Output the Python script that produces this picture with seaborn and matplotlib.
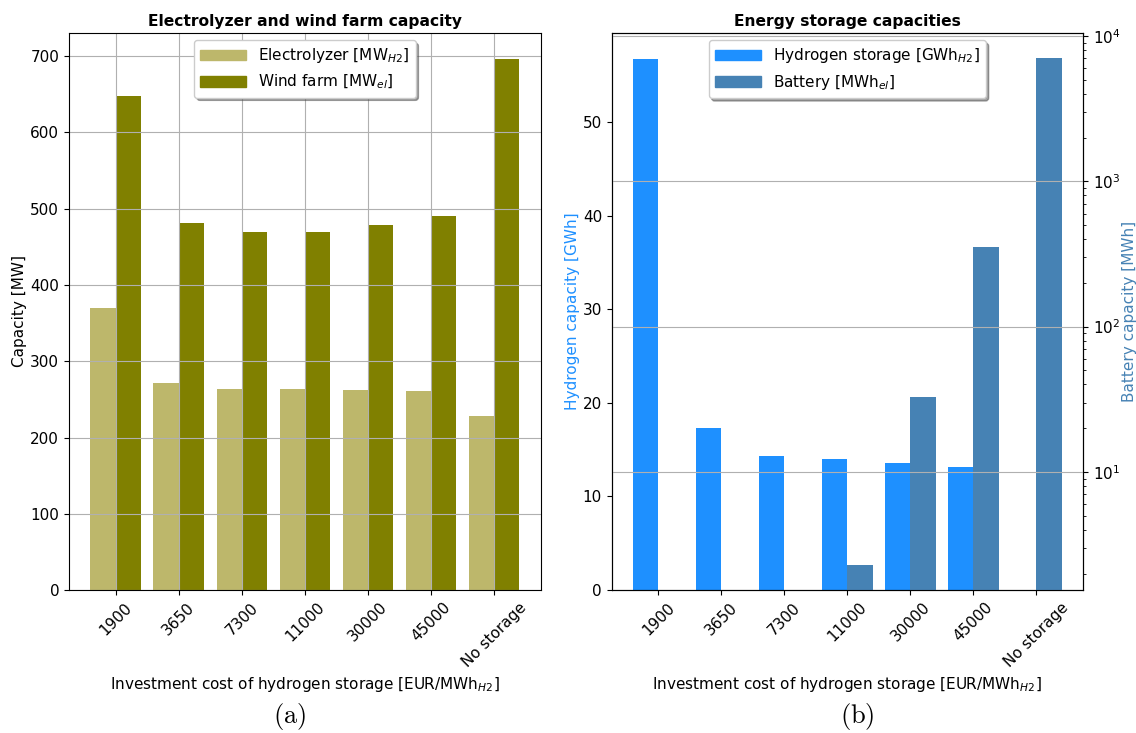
import numpy as np
import pandas as pd
import matplotlib
matplotlib.use("Agg")
import matplotlib.pyplot as plt
from matplotlib.patches import Patch
import seaborn as sns

# Storage investment cost scenarios [EUR/MWh_H2]
costs = ["1900", "3650", "7300", "11000", "30000", "45000", "No storage"]

# Installed capacities [MW]
electrolyzer_mw = [370, 272, 264, 263, 262, 261, 228]
wind_mw = [648, 481, 469, 469, 478, 490, 696]

# Storage capacities
hydrogen_gwh = [56.7, 17.3, 14.3, 14.0, 13.6, 13.1, 0.0]
battery_mwh = [0.0, 0.0, 0.0, 2.3, 33.0, 351.0, 7050.0]

C_EL, C_WIND = "#BDB76B", "#808000"
C_H2, C_BAT = "#1E90FF", "#4682B4"

LAB_EL = r"Electrolyzer [MW$_{H2}$]"
LAB_WIND = r"Wind farm [MW$_{el}$]"
LAB_H2 = r"Hydrogen storage [GWh$_{H2}$]"
LAB_BAT = r"Battery [MWh$_{el}$]"
XLABEL = r"Investment cost of hydrogen storage [EUR/MWh$_{H2}$]"

plt.rcParams.update({
    "font.family": ["DejaVu Sans"],
    "font.size": 11,
    "axes.axisbelow": "line",
    "grid.color": "#b0b0b0",
    "grid.linewidth": 0.8,
})

TITLE_KW = dict(fontweight="bold", fontsize=11.2, pad=5)

fig = plt.figure(figsize=(11.36, 7.33), dpi=100)
ax1 = fig.add_axes([0.0607, 0.195, 0.4153, 0.7604])
ax2 = fig.add_axes([0.5385, 0.195, 0.4148, 0.7604])

n = len(costs)
pad = 0.05 * (n - 1 + 0.8)
xlim = (-0.4 - pad, n - 1 + 0.4 + pad)

# ---- (a) electrolyzer and wind farm ----
df_cap = pd.DataFrame({
    "cost": costs * 2,
    "value": electrolyzer_mw + wind_mw,
    "series": [LAB_EL] * n + [LAB_WIND] * n,
})
sns.barplot(data=df_cap, x="cost", y="value", hue="series", order=costs,
            hue_order=[LAB_EL, LAB_WIND], palette=[C_EL, C_WIND], dodge=True,
            saturation=1, errorbar=None, linewidth=0, legend=False, ax=ax1)
ax1.set_xlim(*xlim)
ax1.set_ylim(0, max(wind_mw) * 1.05)
ax1.grid(True)
ax1.set_title("Electrolyzer and wind farm capacity", **TITLE_KW)
ax1.set_ylabel("Capacity [MW]", labelpad=2)
ax1.set_xlabel(XLABEL)
ax1.tick_params(axis="x", labelrotation=45)
ax1.legend(handles=[Patch(color=C_EL, label=LAB_EL), Patch(color=C_WIND, label=LAB_WIND)],
           loc="upper center", shadow=True, handlelength=3, borderaxespad=0.5)

# ---- (b) energy storage: hydrogen (linear, left) and battery (log, right) ----
df_h2 = pd.DataFrame({"cost": costs, "value": hydrogen_gwh, "series": LAB_H2})
sns.barplot(data=df_h2, x="cost", y="value", hue="series", order=costs,
            hue_order=[LAB_H2, LAB_BAT], palette=[C_H2, C_BAT], dodge=True,
            saturation=1, errorbar=None, linewidth=0, legend=False, ax=ax2)

ax2t = ax2.twinx()
ax2t.set_yscale("log")
bat = [(c, v) for c, v in zip(costs, battery_mwh) if v > 0]
df_bat = pd.DataFrame({"cost": [c for c, _ in bat], "value": [v for _, v in bat],
                       "series": LAB_BAT})
sns.barplot(data=df_bat, x="cost", y="value", hue="series", order=costs,
            hue_order=[LAB_H2, LAB_BAT], palette=[C_H2, C_BAT], dodge=True,
            saturation=1, errorbar=None, linewidth=0, legend=False, ax=ax2t)

pos = [v for v in battery_mwh if v > 0]
lo, hi = np.log10(min(pos)), np.log10(max(pos))
m = 0.05 * (hi - lo)
ax2t.set_ylim(10 ** (lo - m), 10 ** (hi + m))
ax2.set_ylim(0, max(hydrogen_gwh) * 1.05)
ax2.set_xlim(*xlim)
ax2t.set_xlim(*xlim)

ax2.grid(False)
ax2t.grid(False)
ax2t.yaxis.grid(True, which="major")
ax2.set_title("Energy storage capacities", **TITLE_KW)
ax2.set_ylabel("Hydrogen capacity [GWh]", color=C_H2, labelpad=2)
ax2t.set_ylabel("Battery capacity [MWh]", color=C_BAT, labelpad=1)
ax2.set_xlabel(XLABEL)
ax2t.set_xlabel("")
ax2.set_xticks(range(n))
ax2.set_xticklabels(costs)
ax2.tick_params(axis="x", labelrotation=45)
ax2t.legend(handles=[Patch(color=C_H2, label=LAB_H2), Patch(color=C_BAT, label=LAB_BAT)],
            loc="upper center", shadow=True, handlelength=3, borderaxespad=0.5)

fig.text(0.255, 0.023, r"$\mathrm{(a)}$", fontsize=19, math_fontfamily="cm",
         ha="center", va="center")
fig.text(0.755, 0.023, r"$\mathrm{(b)}$", fontsize=19, math_fontfamily="cm",
         ha="center", va="center")

fig.savefig("out.png", dpi=100)
